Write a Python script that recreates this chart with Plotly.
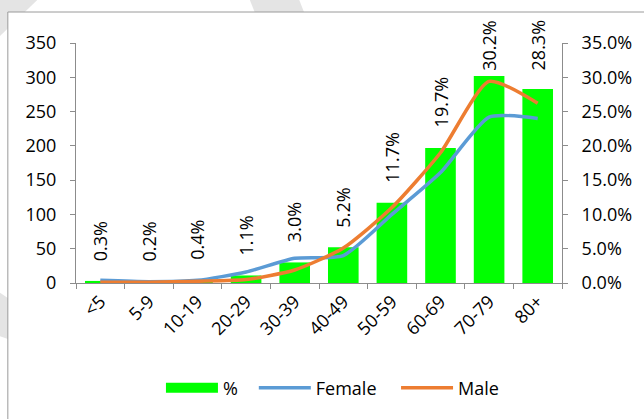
import plotly.graph_objects as go

# Age bands and values
age_groups = ["<5", "5-9", "10-19", "20-29", "30-39", "40-49", "50-59", "60-69", "70-79", "80+"]
share_pct = [0.3, 0.2, 0.4, 1.1, 3.0, 5.2, 11.7, 19.7, 30.2, 28.3]
female = [4, 2, 4, 16, 36, 40, 100, 161, 242, 240]
male = [1, 1, 2.5, 5, 19, 51, 110, 190, 294, 262]

W, H = 644, 419
ML, MR, MT, MB = 76, 76, 43, 136
PW, PH = W - ML - MR, H - MT - MB

FONT = "Open Sans"
FS = 18
GREEN = "#00FF00"
BLUE = "#5B9BD5"
ORANGE = "#ED7D31"
AXIS = "#8C8C8C"
PCT_MAX = 35.0


def px_x(px):
    return (px - ML) / PW


def px_y(py):
    return (H - MB - py) / PH


fig = go.Figure()

fig.add_trace(go.Bar(
    x=age_groups, y=[v / 100 for v in share_pct], yaxis="y",
    marker=dict(color=GREEN, line=dict(width=0)),
    showlegend=False, name="%",
))
# legend key for the bars: a wide green band
fig.add_trace(go.Scatter(
    x=[None], y=[None], mode="lines", name="%",
    line=dict(color=GREEN, width=12), yaxis="y", legend="legend",
))
fig.add_trace(go.Scatter(
    x=age_groups, y=female, yaxis="y2", mode="lines", name="Female",
    line=dict(color=BLUE, width=3.5, shape="spline", smoothing=0.6),
    legend="legend2",
))
fig.add_trace(go.Scatter(
    x=age_groups, y=male, yaxis="y2", mode="lines", name="Male",
    line=dict(color=ORANGE, width=3.5, shape="spline", smoothing=0.6),
    legend="legend3",
))

# vertical value labels above the bars, kept inside the chart area
annotations = []
px_per_pct = PH / PCT_MAX
for cat, v in zip(age_groups, share_pct):
    txt = f"{v:.1f}%"
    ndig = sum(ch.isdigit() for ch in txt)
    text_len = FS * (0.572 * ndig + 0.266 + 0.838)
    bar_top = (H - MB) - v * px_per_pct
    bottom = max(bar_top - 18, 22 + text_len)
    annotations.append(dict(
        x=cat, y=v / 100, xref="x", yref="y", text=txt, textangle=-90,
        showarrow=False, yanchor="bottom", xanchor="center",
        yshift=bar_top - bottom,
        font=dict(family=FONT, size=FS, color="#000000"),
    ))

# page background: light diagonal bands and the framed chart area
band = "#E4E4E4"
shapes = [
    dict(type="path", xref="paper", yref="paper", layer="below", line=dict(width=0), fillcolor=band,
         path=f"M{px_x(-5)},{px_y(-5)} L{px_x(42)},{px_y(-5)} L{px_x(-5)},{px_y(40)} Z"),
    dict(type="path", xref="paper", yref="paper", layer="below", line=dict(width=0), fillcolor=band,
         path=f"M{px_x(250)},{px_y(-5)} L{px_x(300)},{px_y(-5)} L{px_x(310)},{px_y(20)} L{px_x(260)},{px_y(20)} Z"),
    dict(type="path", xref="paper", yref="paper", layer="below", line=dict(width=0), fillcolor=band,
         path=f"M{px_x(-5)},{px_y(290)} L{px_x(10)},{px_y(300)} L{px_x(10)},{px_y(340)} L{px_x(-5)},{px_y(335)} Z"),
    dict(type="rect", xref="paper", yref="paper", layer="below",
         x0=px_x(7), y0=px_y(12), x1=px_x(W + 10), y1=px_y(H + 10),
         fillcolor="#FFFFFF", line=dict(color="#9A9A9A", width=1)),
]


def legend_at(px_left):
    return dict(
        orientation="h", x=px_x(px_left), xanchor="left", y=px_y(388), yanchor="middle",
        font=dict(family=FONT, size=FS), itemwidth=52, bgcolor="rgba(0,0,0,0)",
        borderwidth=0,
    )


fig.update_layout(
    width=W, height=H,
    margin=dict(l=ML, r=MR, t=MT, b=MB, pad=0),
    paper_bgcolor="#FFFFFF", plot_bgcolor="rgba(0,0,0,0)",
    font=dict(family=FONT, size=FS, color="#000000"),
    bargap=0.37,
    showlegend=True,
    legend=legend_at(162),
    legend2=legend_at(256),
    legend3=legend_at(400),
    xaxis=dict(
        type="category", tickangle=-45, showline=True, linecolor=AXIS, linewidth=1,
        ticks="outside", ticklen=5, tickcolor=AXIS, tickson="boundaries",
        showgrid=False, zeroline=False, tickfont=dict(family=FONT, size=FS),
    ),
    yaxis=dict(
        side="right", range=[0, PCT_MAX / 100], dtick=0.05, tickformat=".1%",
        showline=True, linecolor=AXIS, linewidth=1, ticks="outside", ticklen=5,
        tickcolor=AXIS, showgrid=False, zeroline=False, ticklabelstandoff=10,
        tickfont=dict(family=FONT, size=FS),
    ),
    yaxis2=dict(
        side="left", overlaying="y", range=[0, 350], dtick=50,
        showline=True, linecolor=AXIS, linewidth=1, ticks="outside", ticklen=5,
        tickcolor=AXIS, showgrid=False, zeroline=False, ticklabelstandoff=10,
        tickfont=dict(family=FONT, size=FS),
    ),
    annotations=annotations,
    shapes=shapes,
)

fig.write_html("out.html")
